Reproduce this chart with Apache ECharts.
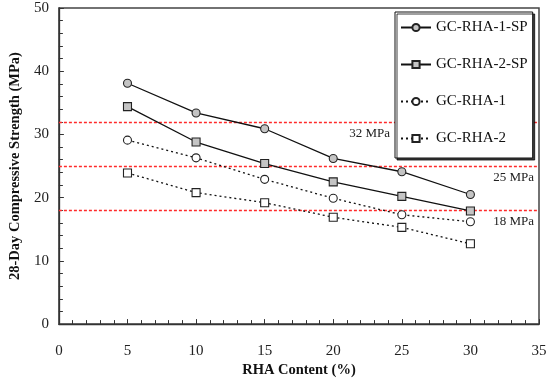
<!DOCTYPE html>
<html><head><meta charset="utf-8">
<script src="https://cdn.jsdelivr.net/npm/echarts@6/dist/echarts.min.js"></script>
<style>html,body{margin:0;padding:0;background:#fff}#c{width:550px;height:383px}</style>
</head><body><div id="c"></div>
<script>
const rhaContent = [5, 10, 15, 20, 25, 30];
const rha1SP = [38.1, 33.4, 30.9, 26.2, 24.1, 20.5];
const rha2SP = [34.4, 28.8, 25.4, 22.5, 20.2, 17.9];
const rha1 = [29.1, 26.3, 22.9, 19.9, 17.3, 16.2];
const rha2 = [23.9, 20.8, 19.2, 16.9, 15.3, 12.7];
const refLevels = [32, 25, 18];
const refLabels = ['32 MPa', '25 MPa', '18 MPa'];
const seriesNames = ['GC-RHA-1-SP', 'GC-RHA-2-SP', 'GC-RHA-1', 'GC-RHA-2'];

const FONT = '"Liberation Serif", "DejaVu Serif", serif';
const pairs = arr => rhaContent.map((x, i) => [x, arr[i]]);

function mk(name, data, symbol, fill, dotted) {
  return {
    name, type: 'line', data: pairs(data), symbol, symbolSize: 8,
    itemStyle: { color: fill, borderColor: '#222', borderWidth: 1.1, opacity: 1 },
    lineStyle: { color: '#111', width: 1.3, type: dotted ? [2, 3] : 'solid' },
    emphasis: { disabled: true }, z: 3
  };
}

const series = [
  mk(seriesNames[0], rha1SP, 'circle', '#c4c4c4', false),
  mk(seriesNames[1], rha2SP, 'rect', '#c4c4c4', false),
  mk(seriesNames[2], rha1, 'circle', '#ffffff', true),
  mk(seriesNames[3], rha2, 'rect', '#ffffff', true)
];
series[0].markLine = {
  silent: true, symbol: 'none', z: 1,
  lineStyle: { color: '#ff2a2a', type: [3, 2], width: 1.3 },
  data: refLevels.map((v, i) => ({
    yAxis: v,
    label: {
      show: true, formatter: refLabels[i], position: 'insideEndBottom',
      fontFamily: FONT, fontSize: 13, color: '#222', distance: 5,
      padding: i === 0 ? [0, 144, 0, 0] : [0, 0, 0, 0]
    }
  }))
};

const chart = echarts.init(document.getElementById('c'), null, { renderer: 'canvas' });
chart.setOption({
  animation: false,
  backgroundColor: '#fff',
  grid: { left: 51, top: 8, width: 488, height: 319, show: true, borderColor: '#444', borderWidth: 1.5 },
  legend: {
    orient: 'vertical', left: 395, top: 12,
    padding: [8, 5, 12, 5], itemGap: 22, itemWidth: 30, itemHeight: 9,
    backgroundColor: '#fff', borderColor: '#111', borderWidth: 1,
    shadowColor: 'rgba(0,0,0,0.75)', shadowBlur: 0, shadowOffsetX: 2, shadowOffsetY: 2,
    textStyle: { fontFamily: FONT, fontSize: 15, color: '#111' },
    data: seriesNames
  },
  xAxis: {
    type: 'value', min: 0, max: 35, interval: 5,
    name: 'RHA Content (%)', nameLocation: 'middle', nameGap: 38,
    nameTextStyle: { fontFamily: FONT, fontSize: 14.5, fontWeight: 'bold', color: '#111' },
    axisLine: { show: true, lineStyle: { color: '#333', width: 1.3 } },
    axisTick: { show: true, inside: true, length: 5, lineStyle: { color: '#333' } },
    minorTick: { show: true, splitNumber: 5, length: 4, lineStyle: { color: '#333' } },
    axisLabel: { fontFamily: FONT, fontSize: 15, color: '#222', margin: 19 },
    splitLine: { show: false }
  },
  yAxis: {
    type: 'value', min: 0, max: 50, interval: 10,
    name: '28-Day Compressive Strength (MPa)', nameLocation: 'middle', nameGap: 31,
    nameTextStyle: { fontFamily: FONT, fontSize: 14.5, fontWeight: 'bold', color: '#111' },
    axisLine: { show: true, lineStyle: { color: '#333', width: 1.3 } },
    axisTick: { show: true, inside: true, length: 5, lineStyle: { color: '#333' } },
    minorTick: { show: true, splitNumber: 5, length: 4, lineStyle: { color: '#333' } },
    axisLabel: { fontFamily: FONT, fontSize: 15, color: '#222', margin: 10 },
    splitLine: { show: false }
  },
  series
});
</script></body></html>
